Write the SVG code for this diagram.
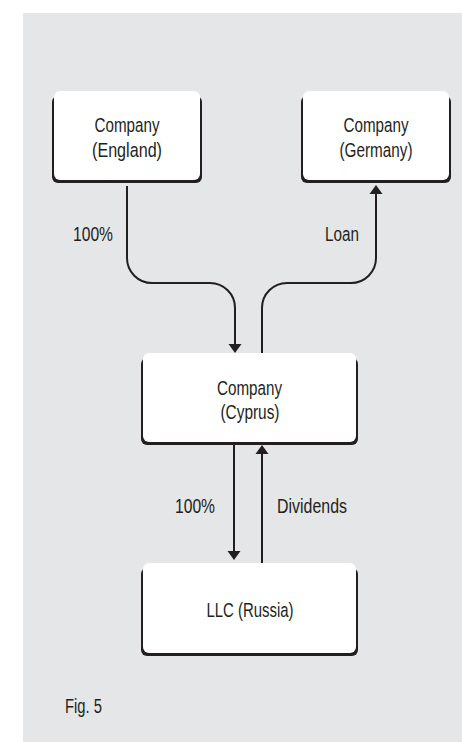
<svg xmlns="http://www.w3.org/2000/svg" width="462" height="742" viewBox="0 0 462 742">
  <style>
    text { font-family: "Liberation Sans", Arial, sans-serif; font-size: 20.5px; fill: #231f20; }
    .mid { text-anchor: middle; }
    .shadow { fill: #231f20; }
    .face { fill: #ffffff; }
    .wire { fill: none; stroke: #231f20; stroke-width: 2; }
  </style>
  <defs>
    <marker id="head" markerUnits="userSpaceOnUse" markerWidth="10" markerHeight="13" refX="0" refY="6.5" orient="auto" overflow="visible">
      <path d="M0,0 L9,6.5 L0,13 Z" fill="#231f20"/>
    </marker>
  </defs>

  <!-- panel -->
  <rect x="23" y="13" width="439" height="729" fill="#e5e6e8"/>

  <!-- connectors -->
  <g id="connectors">
    <path class="wire" d="M127,186 V258 A25,25 0 0 0 152,283 H210 A25,25 0 0 1 235,308 V344" marker-end="url(#head)"/>
    <path class="wire" d="M262,353 V308 A25,25 0 0 1 287,283 H351 A25,25 0 0 0 376,258 V194" marker-end="url(#head)"/>
    <path class="wire" d="M234,445 V551" marker-end="url(#head)"/>
    <path class="wire" d="M262,563 V454" marker-end="url(#head)"/>
    <text x="73" y="241" textLength="40" lengthAdjust="spacingAndGlyphs">100%</text>
    <text x="325" y="241" textLength="34" lengthAdjust="spacingAndGlyphs">Loan</text>
    <text x="175" y="513" textLength="40" lengthAdjust="spacingAndGlyphs">100%</text>
    <text x="277" y="513" textLength="70" lengthAdjust="spacingAndGlyphs">Dividends</text>
  </g>

  <g id="england">
    <rect class="shadow" x="52" y="96" width="150" height="87" rx="6"/>
    <rect class="face" x="54" y="91" width="146" height="89" rx="6"/>
    <text class="mid" x="127" y="132" textLength="65" lengthAdjust="spacingAndGlyphs">Company</text>
    <text class="mid" x="127" y="157" textLength="70" lengthAdjust="spacingAndGlyphs">(England)</text>
  </g>

  <g id="germany">
    <rect class="shadow" x="301" y="96" width="150" height="87" rx="6"/>
    <rect class="face" x="303" y="91" width="146" height="89" rx="6"/>
    <text class="mid" x="376" y="132" textLength="65" lengthAdjust="spacingAndGlyphs">Company</text>
    <text class="mid" x="376" y="157" textLength="73" lengthAdjust="spacingAndGlyphs">(Germany)</text>
  </g>

  <g id="cyprus">
    <rect class="shadow" x="141" y="358" width="217" height="87" rx="6"/>
    <rect class="face" x="143" y="353" width="213" height="89" rx="6"/>
    <text class="mid" x="249.5" y="395" textLength="65" lengthAdjust="spacingAndGlyphs">Company</text>
    <text class="mid" x="250" y="419" textLength="59" lengthAdjust="spacingAndGlyphs">(Cyprus)</text>
  </g>

  <g id="russia">
    <rect class="shadow" x="141" y="568" width="217" height="88" rx="6"/>
    <rect class="face" x="143" y="563" width="213" height="90" rx="6"/>
    <text class="mid" x="250" y="617" textLength="87" lengthAdjust="spacingAndGlyphs">LLC (Russia)</text>
  </g>

  <text x="65" y="713" textLength="37" lengthAdjust="spacingAndGlyphs">Fig. 5</text>
</svg>
